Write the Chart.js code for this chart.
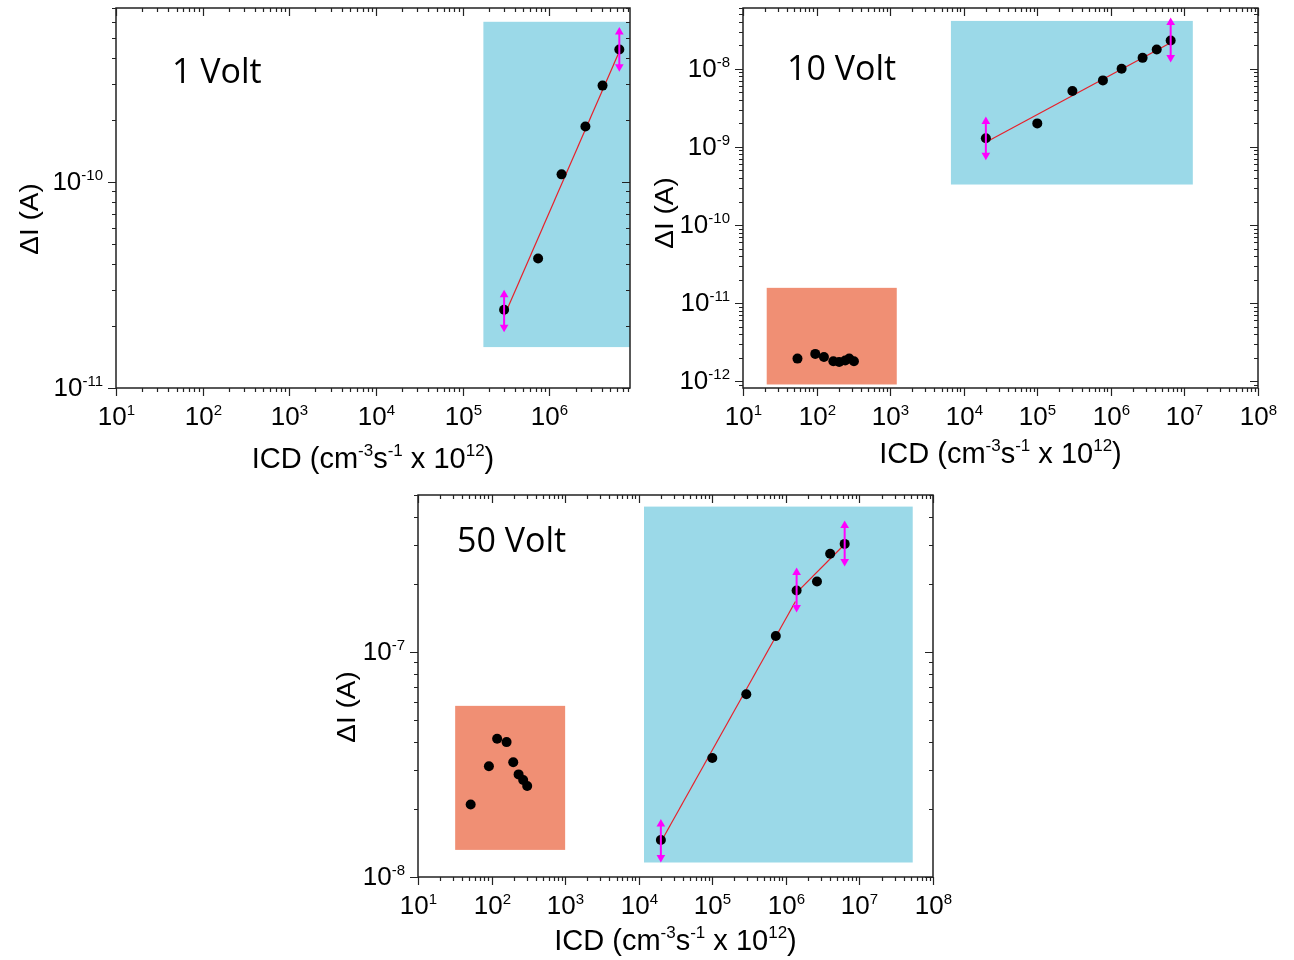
<!DOCTYPE html>
<html>
<head>
<meta charset="utf-8">
<script src="https://cdn.jsdelivr.net/npm/chart.js@4.4.0/dist/chart.umd.min.js"></script>
<style>
html, body { margin: 0; padding: 0; background: #fff; }
#wrap { position: relative; width: 1294px; height: 960px; overflow: hidden; }
canvas { position: absolute; }
</style>
</head>
<body>
<div id="wrap">
  <canvas id="c1" width="650" height="480" style="left:0;top:0"></canvas>
  <canvas id="c2" width="644" height="480" style="left:650px;top:0"></canvas>
  <canvas id="c3" width="660" height="480" style="left:320px;top:480px"></canvas>
</div>
<script>
/*globals Chart*/

// ---- 1 Volt ----
var icd1 = [3.0e5, 7.4e5, 1.38e6, 2.6e6, 4.1e6, 6.4e6];
var dI1 = [2.4e-11, 4.25e-11, 1.09e-10, 1.86e-10, 2.94e-10, 4.4e-10];
var fitIcd1 = [3.0e5, 6.4e6];
var fitDI1 = [2.23e-11, 4.3e-10];
var errIcd1 = [3.0e5, 6.4e6];
var errLo1 = [1.97e-11, 3.63e-10];
var errHi1 = [2.84e-11, 5.36e-10];
var blueBox1 = [1.73e5, 8.5e6, 1.58e-11, 6.0e-10];

// ---- 10 Volt ----
var icd10 = [2e4, 1e5, 3e5, 7.8e5, 1.4e6, 2.7e6, 4.2e6, 6.5e6];
var dI10 = [1.29e-9, 2.0e-9, 5.2e-9, 7.1e-9, 1.0e-8, 1.38e-8, 1.77e-8, 2.3e-8];
var icd10Low = [55, 96, 126, 169, 203, 245, 278, 322];
var dI10Low = [1.95e-12, 2.24e-12, 2.05e-12, 1.8e-12, 1.77e-12, 1.84e-12, 1.95e-12, 1.8e-12];
var fitIcd10 = [2e4, 6.5e6];
var fitDI10 = [1.15e-9, 2.16e-8];
var errIcd10 = [2e4, 6.5e6];
var errLo10 = [7.8e-10, 1.39e-8];
var errHi10 = [2.12e-9, 3.9e-8];
var orangeBox10 = [21, 1.23e3, 9.1e-13, 1.57e-11];
var blueBox10 = [6.7e3, 1.3e7, 3.3e-10, 4.1e-8];

// ---- 50 Volt ----
var icd50 = [2e4, 1e5, 2.9e5, 7.3e5, 1.4e6, 2.65e6, 4.0e6, 6.3e6];
var dI50 = [1.46e-8, 3.38e-8, 6.5e-8, 1.18e-7, 1.88e-7, 2.06e-7, 2.74e-7, 3.03e-7];
var icd50Low = [52, 92, 119, 160, 197, 233, 269, 305];
var dI50Low = [2.1e-8, 3.11e-8, 4.12e-8, 3.98e-8, 3.24e-8, 2.86e-8, 2.7e-8, 2.54e-8];
var fitIcd50a = [2e4, 1.35e6];
var fitDI50a = [1.43e-8, 1.68e-7];
var fitIcd50b = [1.4e6, 6.3e6];
var fitDI50b = [1.84e-7, 3.02e-7];
var errIcd50 = [2e4, 1.4e6, 6.3e6];
var errLo50 = [1.22e-8, 1.58e-7, 2.53e-7];
var errHi50 = [1.72e-8, 2.26e-7, 3.66e-7];
var orangeBox50 = [32, 1e3, 1.32e-8, 5.77e-8];
var blueBox50 = [1.18e4, 5.3e7, 1.16e-8, 4.44e-7];

var BLUE = '#9bd9e8';
var ORANGE = '#f08f74';
var FONT = '"Liberation Sans", Arial, sans-serif';

function pts(xs, ys) {
    return xs.map(function (x, i) { return {x: x, y: ys[i]}; });
}

function scatterSet(xs, ys) {
    return {
        data: pts(xs, ys),
        showLine: false,
        pointRadius: 5,
        pointBackgroundColor: '#000',
        pointBorderColor: '#000',
        pointBorderWidth: 0,
        order: 1
    };
}

function fitSet(xs, ys) {
    return {
        data: pts(xs, ys),
        showLine: true,
        borderColor: '#e8202a',
        borderWidth: 1.2,
        pointRadius: 0,
        order: 2
    };
}

function errorSets(xs, lo, hi) {
    return xs.map(function (x, i) {
        return {
            data: [{x: x, y: lo[i]}, {x: x, y: hi[i]}],
            showLine: true,
            borderColor: '#ff00ff',
            borderWidth: 2,
            pointStyle: 'triangle',
            pointRadius: 5,
            pointBackgroundColor: '#ff00ff',
            pointBorderColor: '#ff00ff',
            pointBorderWidth: 0,
            pointRotation: function (c) { return c.dataIndex === 0 ? 180 : 0; },
            order: 0
        };
    });
}

// draws "10" + raised exponent style text made of segments [text, isSup]
function drawRich(ctx, segs, x, y, align, big, small, rise) {
    var widths = segs.map(function (s) {
        ctx.font = (s[1] ? small : big) + 'px ' + FONT;
        return ctx.measureText(s[0]).width;
    });
    var total = widths.reduce(function (a, b) { return a + b; }, 0);
    var cx = align === 'center' ? x - total / 2 : (align === 'right' ? x - total : x);
    ctx.textAlign = 'left';
    ctx.textBaseline = 'alphabetic';
    segs.forEach(function (s, i) {
        ctx.font = (s[1] ? small : big) + 'px ' + FONT;
        ctx.fillText(s[0], cx, s[1] ? y - rise : y);
        cx += widths[i];
    });
}

function logValues(min, max) {
    var out = [];
    for (var k = Math.floor(Math.log10(min)); k <= Math.ceil(Math.log10(max)); k++) {
        for (var m = 1; m <= 9; m++) {
            var v = m * Math.pow(10, k);
            if (v >= min * 0.999 && v <= max * 1.001) {
                out.push({v: v, major: m === 1, exp: k});
            }
        }
    }
    return out;
}

var axesPlugin = {
    id: 'axesPlugin',
    beforeDatasetsDraw: function (chart) {
        var o = chart.options.plugins.axesPlugin;
        var ctx = chart.ctx, xs = chart.scales.x, ys = chart.scales.y, a = chart.chartArea;
        ctx.save();
        ctx.beginPath();
        ctx.rect(a.left, a.top, a.right - a.left, a.bottom - a.top);
        ctx.clip();
        o.boxes.forEach(function (b) {
            var x0 = xs.getPixelForValue(b.r[0]), x1 = xs.getPixelForValue(b.r[1]);
            var y0 = ys.getPixelForValue(b.r[3]), y1 = ys.getPixelForValue(b.r[2]);
            ctx.fillStyle = b.color;
            ctx.fillRect(x0, y0, x1 - x0, y1 - y0);
        });
        ctx.restore();
    },
    afterDraw: function (chart) {
        var o = chart.options.plugins.axesPlugin;
        var ctx = chart.ctx, xs = chart.scales.x, ys = chart.scales.y, a = chart.chartArea;
        ctx.save();
        ctx.strokeStyle = '#222';
        ctx.fillStyle = '#000';
        ctx.lineWidth = 1.5;
        ctx.strokeRect(a.left, a.top, a.right - a.left, a.bottom - a.top);
        ctx.lineWidth = 1.2;

        logValues(xs.min, xs.max).forEach(function (t) {
            var px = Math.round(xs.getPixelForValue(t.v)) + 0.5;
            var len = t.major ? 8 : 4;
            ctx.beginPath();
            ctx.moveTo(px, a.bottom); ctx.lineTo(px, a.bottom + len);
            ctx.moveTo(px, a.top); ctx.lineTo(px, a.top + len);
            ctx.stroke();
            if (t.major) {
                drawRich(ctx, [['10', false], [String(t.exp), true]],
                    px, a.bottom + 37, 'center', 26, 15, 10);
            }
        });
        logValues(ys.min, ys.max).forEach(function (t) {
            var py = Math.round(ys.getPixelForValue(t.v)) + 0.5;
            var len = t.major ? 8 : 4;
            ctx.beginPath();
            ctx.moveTo(a.left, py); ctx.lineTo(a.left - len, py);
            ctx.moveTo(a.right, py); ctx.lineTo(a.right - len, py);
            ctx.stroke();
            if (t.major) {
                drawRich(ctx, [['10', false], [String(t.exp), true]],
                    a.left - 13, py + 7, 'right', 26, 15, 10);
            }
        });

        // axis titles
        drawRich(ctx, [['ICD (cm', false], ['-3', true], ['s', false], ['-1', true],
            [' x 10', false], ['12', true], [')', false]],
            (a.left + a.right) / 2, a.bottom + o.xTitleDy, 'center', 29, 17, 12);

        ctx.save();
        ctx.translate(o.yTitleX, o.yTitleY);
        ctx.rotate(-Math.PI / 2);
        ctx.scale(1, 0.9);
        ctx.font = '28px ' + FONT;
        ctx.textAlign = 'center';
        ctx.textBaseline = 'middle';
        ctx.fillText('\u0394I (A)', 0, 0);
        ctx.restore();

        ctx.font = '34px "Open Sans", sans-serif';
        ctx.textAlign = 'left';
        ctx.textBaseline = 'middle';
        ctx.fillText(o.label, o.labelX, o.labelY);
        ctx.restore();
    }
};

function makeChart(id, datasets, xr, yr, pad, extra) {
    return new Chart(document.getElementById(id), {
        type: 'scatter',
        data: { datasets: datasets },
        options: {
            responsive: false,
            animation: false,
            devicePixelRatio: 1,
            layout: { padding: pad },
            scales: {
                x: { type: 'logarithmic', min: xr[0], max: xr[1], display: false },
                y: { type: 'logarithmic', min: yr[0], max: yr[1], display: false }
            },
            plugins: {
                legend: { display: false },
                tooltip: { enabled: false },
                axesPlugin: extra
            }
        },
        plugins: [axesPlugin]
    });
}

makeChart('c1',
    [scatterSet(icd1, dI1), fitSet(fitIcd1, fitDI1)].concat(errorSets(errIcd1, errLo1, errHi1)),
    [10, 8.5e6], [1e-11, 7e-10],
    {left: 116, top: 8, right: 20, bottom: 92},
    {boxes: [{r: blueBox1, color: BLUE}], xTitleDy: 80, yTitleX: 31, yTitleY: 219,
     label: '1 Volt', labelX: 172, labelY: 73});

makeChart('c2',
    [scatterSet(icd10, dI10), scatterSet(icd10Low, dI10Low), fitSet(fitIcd10, fitDI10)]
        .concat(errorSets(errIcd10, errLo10, errHi10)),
    [10, 1e8], [8.2e-13, 6e-8],
    {left: 93, top: 8, right: 36, bottom: 92},
    {boxes: [{r: orangeBox10, color: ORANGE}, {r: blueBox10, color: BLUE}],
     xTitleDy: 75, yTitleX: 16, yTitleY: 213,
     label: '10 Volt', labelX: 137, labelY: 70});

makeChart('c3',
    [scatterSet(icd50, dI50), scatterSet(icd50Low, dI50Low),
     fitSet(fitIcd50a, fitDI50a), fitSet(fitIcd50b, fitDI50b)]
        .concat(errorSets(errIcd50, errLo50, errHi50)),
    [10, 1e8], [1e-8, 5e-7],
    {left: 98, top: 15, right: 47, bottom: 83},
    {boxes: [{r: orangeBox50, color: ORANGE}, {r: blueBox50, color: BLUE}],
     xTitleDy: 73, yTitleX: 28, yTitleY: 227,
     label: '50 Volt', labelX: 137, labelY: 62});
</script>
</body>
</html>
